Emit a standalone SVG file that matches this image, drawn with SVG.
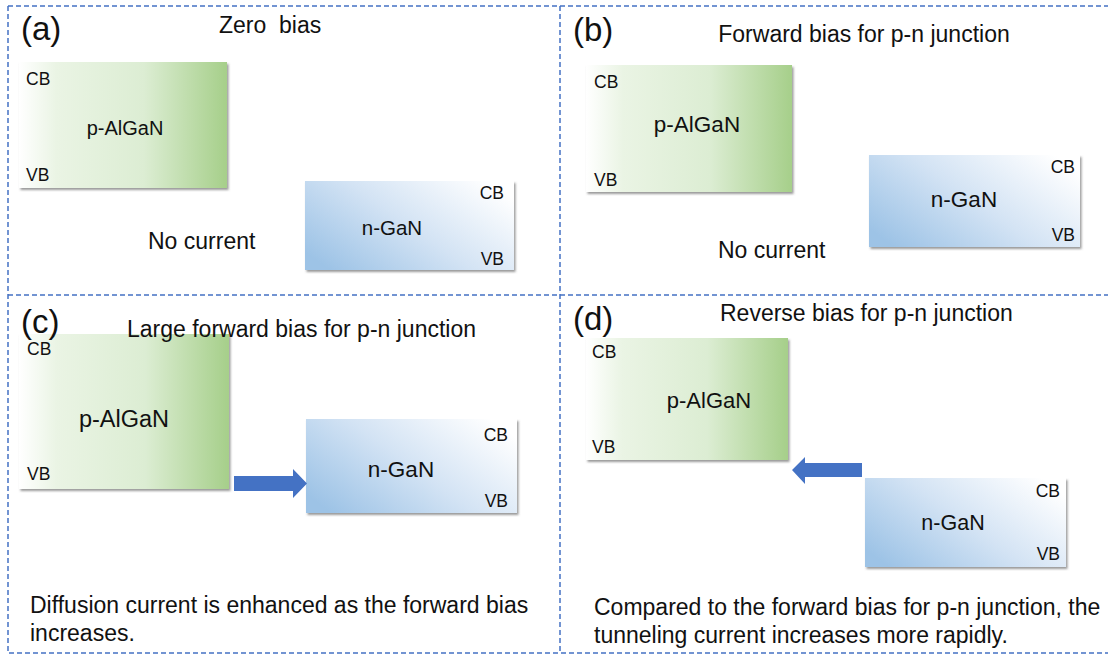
<svg xmlns="http://www.w3.org/2000/svg" width="1108" height="657" viewBox="0 0 1108 657">
<style>
text{font-family:"Liberation Sans",Arial,sans-serif;fill:#111}
.lbl{font-size:33px}
.title{font-size:23px}
.band{font-size:17.5px}
.desc{font-size:23px}
.border{fill:none;stroke:#4472C4;stroke-width:1.5;stroke-dasharray:5 3}
.p{fill:url(#gp);filter:url(#sh)}
.n{fill:url(#gn);filter:url(#sh)}
.arrow{fill:#4472C4}
</style>
<defs>
<linearGradient id="gp" x1="0" y1="0" x2="1" y2="0">
<stop offset="0" stop-color="#ffffff"/>
<stop offset="0.18" stop-color="#EAF4E4"/>
<stop offset="0.6" stop-color="#DCEDD3"/>
<stop offset="1" stop-color="#A6CF8A"/>
</linearGradient>
<linearGradient id="gn" x1="0" y1="0.8" x2="1" y2="0.2">
<stop offset="0" stop-color="#9DC3E6"/>
<stop offset="0.5" stop-color="#D3E3F4"/>
<stop offset="1" stop-color="#ffffff"/>
</linearGradient>
<filter id="sh" x="-5%" y="-5%" width="112%" height="115%">
<feDropShadow dx="1.5" dy="2" stdDeviation="1.2" flood-color="#555" flood-opacity="0.6"/>
</filter>
</defs>

<g id="borders">
<path class="border" d="M8 6 H1108 M8 6 V653 H1108 M560 6 V653 M8 295 H1108"/>
</g>

<g id="panel-a">
<g id="a-p">
<rect class="p" x="19" y="62" width="208" height="126"/>
<text class="band" x="26" y="85">CB</text>
<text x="125" y="135" text-anchor="middle" font-size="20">p-AlGaN</text>
<text class="band" x="26" y="181">VB</text>
</g>
<g id="a-n">
<rect class="n" x="305" y="181" width="209" height="89"/>
<text class="band" x="504" y="199" text-anchor="end">CB</text>
<text x="392" y="235" text-anchor="middle" font-size="20.5">n-GaN</text>
<text class="band" x="504" y="265" text-anchor="end">VB</text>
</g>
<text class="lbl" x="21" y="40">(a)</text>
<text class="title" x="219" y="33" xml:space="preserve">Zero  bias</text>
<text class="title" x="148" y="249">No current</text>
</g>

<g id="panel-b">
<g id="b-p">
<rect class="p" x="586" y="65" width="206" height="127"/>
<text class="band" x="594" y="88">CB</text>
<text x="697" y="132" text-anchor="middle" font-size="22.5">p-AlGaN</text>
<text class="band" x="594" y="186">VB</text>
</g>
<g id="b-n">
<rect class="n" x="869" y="155" width="211" height="92"/>
<text class="band" x="1075" y="173" text-anchor="end">CB</text>
<text x="964" y="207" text-anchor="middle" font-size="22.5">n-GaN</text>
<text class="band" x="1075" y="241" text-anchor="end">VB</text>
</g>
<text class="lbl" x="573" y="41">(b)</text>
<text class="title" x="864" y="42" text-anchor="middle">Forward bias for p-n junction</text>
<text class="title" x="718" y="258">No current</text>
</g>

<g id="panel-c">
<g id="c-p">
<rect class="p" x="19" y="334" width="210" height="155"/>
<text class="band" x="27" y="355">CB</text>
<text x="124" y="427" text-anchor="middle" font-size="23.5">p-AlGaN</text>
<text class="band" x="27" y="480">VB</text>
</g>
<g id="c-n">
<rect class="n" x="306" y="419" width="211" height="94"/>
<text class="band" x="508" y="441" text-anchor="end">CB</text>
<text x="401" y="477" text-anchor="middle" font-size="22.5">n-GaN</text>
<text class="band" x="508" y="507" text-anchor="end">VB</text>
</g>
<text class="lbl" x="21" y="333">(c)</text>
<text class="title" x="127" y="337">Large forward bias for p-n junction</text>
<text class="desc" x="30" y="613">Diffusion current is enhanced as the forward bias</text>
<text class="desc" x="30" y="641">increases.</text>
</g>

<g id="panel-d">
<g id="d-p">
<rect class="p" x="586" y="338" width="202" height="122"/>
<text class="band" x="592" y="358">CB</text>
<text x="709" y="408" text-anchor="middle" font-size="22">p-AlGaN</text>
<text class="band" x="592" y="453">VB</text>
</g>
<g id="d-n">
<rect class="n" x="865" y="478" width="201" height="89"/>
<text class="band" x="1060" y="497" text-anchor="end">CB</text>
<text x="953" y="530" text-anchor="middle" font-size="21.5">n-GaN</text>
<text class="band" x="1060" y="560" text-anchor="end">VB</text>
</g>
<text class="lbl" x="573" y="330">(d)</text>
<text class="title" x="720" y="321">Reverse bias for p-n junction</text>
<text class="desc" x="594" y="615">Compared to the forward bias for p-n junction, the</text>
<text class="desc" x="594" y="643">tunneling current increases more rapidly.</text>
</g>

<g id="connectors">
<polygon class="arrow" points="234,476 293,476 293,469 307,483.5 293,498 293,491 234,491"/>
<polygon class="arrow" points="862,463 805,463 805,457 792,470 805,484 805,477 862,477"/>
</g>
</svg>
